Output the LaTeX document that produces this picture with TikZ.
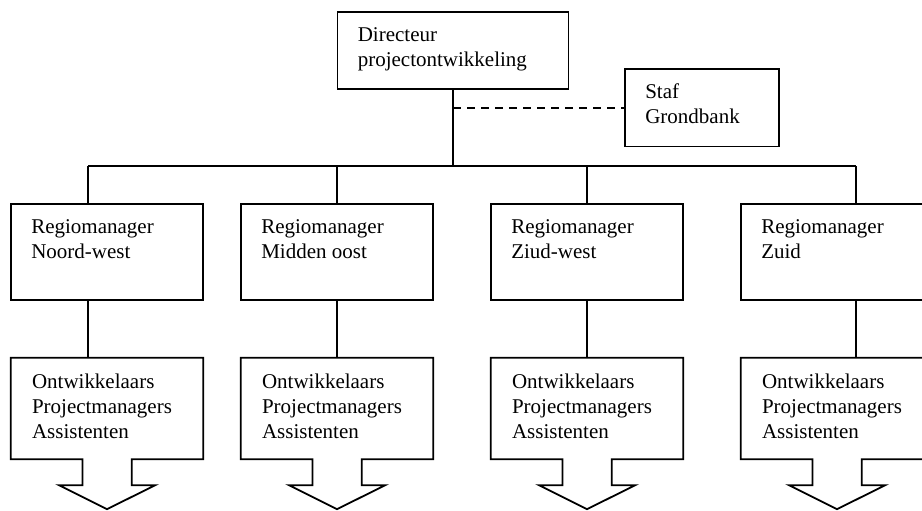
\documentclass[tikz,border=0pt]{standalone}
\usepackage{fontspec}
\setmainfont{Liberation Serif}
\usetikzlibrary{calc}

\tikzset{
  unit/.style={draw, line width=1.8pt, rectangle, inner sep=0pt, minimum width=192pt, minimum height=96pt},
  teamunit/.style={inner sep=0pt, minimum width=192pt, minimum height=101pt},
  caption/.style={anchor=base west, inner sep=0pt, font=\fontsize{21}{25}\selectfont},
  link/.style={line width=1.8pt},
  stafflink/.style={line width=1.8pt, dash pattern=on 8pt off 6pt},
  outline/.style={line width=1.8pt, line join=miter}
}

\newcommand{\lines}[1]{\begin{tabular}[t]{@{}l@{}}#1\end{tabular}}

\begin{document}
\begin{tikzpicture}[x=1pt,y=-1pt]
  \clip (0,0) rectangle (922,511);

  % top management and staff
  \node[unit, minimum width=231pt, minimum height=77pt] (dir) at (453,50.5) {};
  \node[caption] (dirtxt) at ($(dir.north west)+(21,30)$) {\lines{Directeur\\projectontwikkeling}};
  \node[unit, minimum width=154pt, minimum height=77.5pt] (staf) at (702,107.75) {};
  \node[caption] (staftxt) at ($(staf.north west)+(21,30)$) {\lines{Staf\\Grondbank}};

  % regional managers
  \node[unit] (r1) at (107,252) {};
  \node[unit] (r2) at (337,252) {};
  \node[unit] (r3) at (587,252) {};
  \node[unit] (r4) at (837,252) {};
  \node[caption] (r1txt) at ($(r1.north west)+(21,30)$) {\lines{Regiomanager\\Noord-west}};
  \node[caption] (r2txt) at ($(r2.north west)+(21,30)$) {\lines{Regiomanager\\Midden oost}};
  \node[caption] (r3txt) at ($(r3.north west)+(21,30)$) {\lines{Regiomanager\\Ziud-west}};
  \node[caption] (r4txt) at ($(r4.north west)+(21,30)$) {\lines{Regiomanager\\Zuid}};

  % teams, each outlined as a box with a downward arrow
  \foreach \i/\cx in {1/107, 2/337, 3/587, 4/837} {
    \node[teamunit] (t\i) at (\cx,408.5) {};
    \draw[outline] (t\i.north west) -- (t\i.north east) -- (t\i.south east)
      -- ++(-71.5,0) -- ++(0,26) -- ++(23.5,0) -- ($(t\i.south)+(0,50)$)
      -- ++(-48,-24) -- ++(23.5,0) -- ++(0,-26) -- (t\i.south west) -- cycle;
    \node[caption] (t\i txt) at ($(t\i.north west)+(21,31)$)
      {\lines{Ontwikkelaars\\Projectmanagers\\Assistenten}};
  }

  % connector points on the distribution bar
  \coordinate (bar) at (453,166);
  \coordinate (b1) at (88,166);
  \coordinate (b4) at (856,166);
  \coordinate (staffjoin) at (dir.south |- staf.west);

  \draw[link] (dir.south) -- (bar);
  \draw[link] (b1) -- (b4);
  \draw[stafflink] (staffjoin) -- (staf.west);

  \draw[link] (b1) -- (b1 |- r1.north);
  \draw[link] (r2.north |- bar) -- (r2.north);
  \draw[link] (r3.north |- bar) -- (r3.north);
  \draw[link] (b4) -- (b4 |- r4.north);

  \draw[link] (b1 |- r1.south) -- (b1 |- t1.north);
  \draw[link] (r2.south) -- (t2.north);
  \draw[link] (r3.south) -- (t3.north);
  \draw[link] (b4 |- r4.south) -- (b4 |- t4.north);
\end{tikzpicture}
\end{document}
